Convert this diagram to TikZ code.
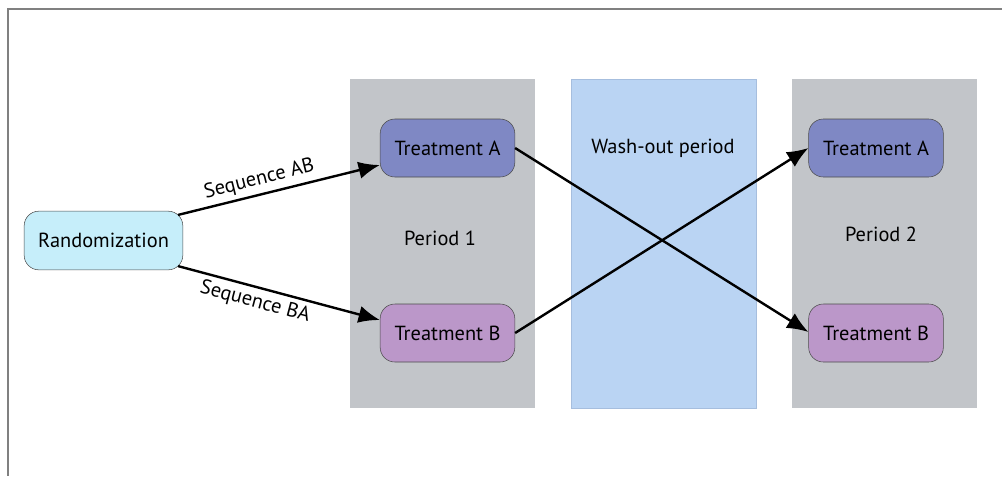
\documentclass[tikz,border=0pt]{standalone}
\usepackage{fontspec}
\setmainfont{PT Sans}
\usepackage{tikz}
\usetikzlibrary{arrows.meta,positioning,calc}

\definecolor{periodgray}{HTML}{C2C5C9}
\definecolor{washblue}{HTML}{BAD4F3}
\definecolor{washedge}{HTML}{A6BEDE}
\definecolor{treatA}{HTML}{7F88C4}
\definecolor{treatB}{HTML}{BB97C9}
\definecolor{randcyan}{HTML}{C6EEFA}

\tikzset{
  periodbox/.style={fill=periodgray,draw=none},
  treatbox/.style={draw=black!70,rounded corners=11pt,minimum width=101pt,minimum height=43.5pt,font=\fontsize{15.3}{17}\selectfont},
  flow/.style={-{Latex[length=16pt,width=13pt]},line width=1.8pt}
}

\begin{document}
\begin{tikzpicture}[x=0.75pt,y=-0.75pt,font=\fontsize{15.3}{17}\selectfont]
  \useasboundingbox (0,0) rectangle (1002,476);
  % frame
  \draw[gray,line width=1.1pt] (1002,9) -- (8,9) -- (8,476);
  % periods
  \fill[periodbox] (350,79) rectangle (535,408);
  \filldraw[fill=washblue,draw=washedge,line width=0.6pt] (571,79) rectangle (756,408);
  \fill[periodbox] (792,79) rectangle (977,408);
  \node (p1) at (440,238) {Period 1};
  \node (wash) at (663,148) {Wash-out period};
  \node (p2) at (881,234) {Period 2};
  % nodes
  \node[treatbox,fill=randcyan,minimum width=119pt,minimum height=44pt] (rand) at (103.5,240.5) {Randomization};
  \node[treatbox,fill=treatA] (a1) at (447.5,148) {Treatment A};
  \node[treatbox,fill=treatB] (b1) at (447.5,333) {Treatment B};
  \node[treatbox,fill=treatA] (a2) at (876,148) {Treatment A};
  \node[treatbox,fill=treatB] (b2) at (876,333) {Treatment B};
  % arrows
  \draw[flow] (rand.north east)++(-5,4) -- node[pos=0.42,above,sloped] {Sequence AB} ($(a1.west)+(0,17)$);
  \draw[flow] (rand.south east)++(-5,-4) -- node[pos=0.4,below,sloped] {Sequence BA} ($(b1.west)+(0,-13)$);
  \draw[flow] (a1.east) -- ($(b2.west)+(0,-1)$);
  \draw[flow] (b1.east) -- (a2.west);
\end{tikzpicture}
\end{document}
